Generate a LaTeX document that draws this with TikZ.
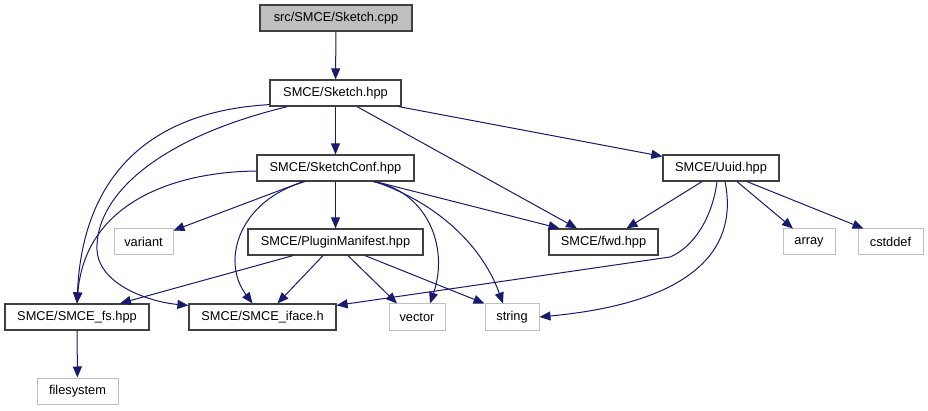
\documentclass[tikz,border=0pt]{standalone}
\usepackage{fontspec}
\setmainfont{Liberation Sans}
\usetikzlibrary{arrows.meta}
\definecolor{edgeblue}{HTML}{191970}
\definecolor{boxline}{HTML}{404040}
\definecolor{sysline}{HTML}{BFBFBF}
\definecolor{rootfill}{HTML}{BFBFBF}

\begin{document}
\begin{tikzpicture}[
  x=1pt, y=-1pt,
  font=\fontsize{12.8}{14}\selectfont,
  hdr/.style={draw=boxline, line width=1.2pt, minimum height=26pt, inner sep=0pt},
  sys/.style={draw=sysline, line width=1pt, minimum height=26pt, inner sep=0pt},
  root/.style={hdr, fill=rootfill},
  dep/.style={draw=edgeblue, line width=1pt, -{Triangle[length=11pt,width=9pt]}}
]
\useasboundingbox (0,0) rectangle (928,411);

% ---------- Files of the project ----------
\node[root, minimum width=152pt] (cpp)   at (336,18)    {src/SMCE/Sketch.cpp};
\node[hdr,  minimum width=131pt] (sk)    at (335.5,93)  {SMCE/Sketch.hpp};
\node[hdr,  minimum width=157pt] (conf)  at (335.5,168) {SMCE/SketchConf.hpp};
\node[hdr,  minimum width=116pt] (uuid)  at (721,168)   {SMCE/Uuid.hpp};
\node[hdr,  minimum width=175pt] (plug)  at (335.5,242) {SMCE/PluginManifest.hpp};
\node[hdr,  minimum width=109pt] (fwd)   at (603.5,242) {SMCE/fwd.hpp};
\node[hdr,  minimum width=144pt] (fs)    at (77,317)    {SMCE/SMCE\_fs.hpp};
\node[hdr,  minimum width=147pt] (iface) at (262.5,317) {SMCE/SMCE\_iface.h};

% ---------- Standard headers ----------
\node[sys, minimum width=59pt] (variant) at (143.5,242) {variant};
\node[sys, minimum width=52pt] (array)   at (809,242)   {array};
\node[sys, minimum width=65pt] (cstddef) at (890.5,242) {cstddef};
\node[sys, minimum width=56pt] (vector)  at (417,317)   {vector};
\node[sys, minimum width=54pt] (string)  at (512,317)   {string};
\node[sys, minimum width=81pt] (filesys) at (77.5,391)  {filesystem};

% ---------- Sketch.cpp and Sketch.hpp ----------
\draw[dep] (cpp) -- (sk);
\draw[dep] (sk) -- (conf);
\draw[dep] ([xshift=-3pt]sk.south east) -- ([yshift=-2pt]uuid.north west);
\draw[dep] ([xshift=21.5pt]sk.south) -- ([xshift=-26.5pt]fwd.north);
\draw[dep] ([yshift=2pt]sk.south west) .. controls (140,112) and (82,185) .. (fs.north);
\draw[dep] ([xshift=-48pt]sk.south) .. controls (150,140) and (95,200) .. (97,250)
  .. controls (99,285) and (150,302) .. ([yshift=-2pt]iface.north west);

% ---------- SketchConf.hpp ----------
\draw[dep] (conf) -- (plug);
\draw[dep] ([yshift=-3pt]conf.west) .. controls (170,172) and (85,205) .. (fs.north);
\draw[dep] ([xshift=-32.5pt]conf.south) -- ([yshift=-2pt]variant.north east);
\draw[dep] ([xshift=-30.5pt]conf.south) .. controls (240,200) and (220,260) .. ([xshift=-10pt]iface.north);
\draw[dep] ([xshift=37pt]conf.south) .. controls (425,190) and (450,245) .. ([xshift=13pt]vector.north);
\draw[dep] ([xshift=39pt]conf.south) .. controls (430,200) and (480,240) .. ([xshift=-9pt]string.north);
\draw[dep] ([xshift=40pt]conf.south) -- ([xshift=-44pt]fwd.north);

% ---------- PluginManifest.hpp ----------
\draw[dep] ([xshift=-42.5pt]plug.south) -- ([xshift=43pt]fs.north);
\draw[dep] ([xshift=-12.5pt]plug.south) -- ([xshift=15pt]iface.north);
\draw[dep] ([xshift=12.5pt]plug.south) -- ([xshift=-20pt]vector.north);
\draw[dep] ([xshift=29.5pt]plug.south) -- (string.north west);

% ---------- Uuid.hpp ----------
\draw[dep] ([xshift=-19pt]uuid.south) -- ([xshift=23pt]fwd.north);
\draw[dep] ([xshift=-4pt]uuid.south) .. controls (712,220) and (692,248) .. (670,257)
  -- ([yshift=-2pt]iface.north east);
\draw[dep] ([xshift=4pt]uuid.south) .. controls (735,230) and (720,300) .. (string.east);
\draw[dep] ([xshift=16pt]uuid.south) -- ([xshift=-16pt]array.north);
\draw[dep] ([xshift=26pt]uuid.south) -- ([xshift=-27pt]cstddef.north);

% ---------- SMCE_fs.hpp ----------
\draw[dep] (fs) -- (filesys);
\end{tikzpicture}
\end{document}
